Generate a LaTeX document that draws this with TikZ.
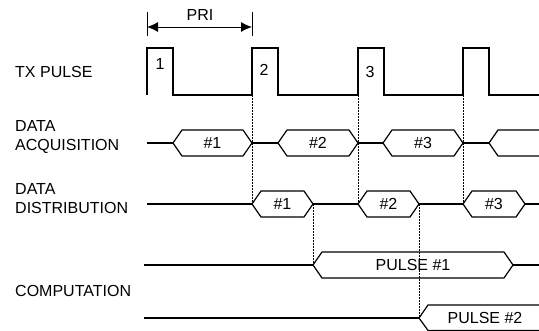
\documentclass[tikz,border=0pt]{standalone}
\usepackage{fontspec}
\setmainfont{Liberation Sans}
\usetikzlibrary{arrows.meta}

% bus segment drawn as a hexagon: name, left x, right x, y, text
\newcommand{\hexbox}[5]{%
    \draw[signal] (#2,#4) -- (#2+9,#4-13) -- (#3-9,#4-13) -- (#3,#4)
        -- (#3-9,#4+13) -- (#2+9,#4+13) -- cycle;
    \coordinate (#1w) at (#2,#4);
    \coordinate (#1e) at (#3,#4);
    \node[tag] (#1) at ({(#2+#3)/2},#4) {#5};
}

\begin{document}
\begin{tikzpicture}[
    x=1pt,
    y=-1pt,
    signal/.style={
        line width=1.2pt,
        line join=miter
    },
    guide/.style={
        densely dotted,
        line width=0.5pt
    },
    tag/.style={
        font=\fontsize{16}{19}\selectfont,
        inner sep=0pt
    },
    rowlabel/.style={
        tag,
        anchor=west,
        align=left
    }
]

\useasboundingbox (0,0) rectangle (539,331);


\node[rowlabel] (lbltx) at (15,72) {TX PULSE};
\node[rowlabel] (lblacq) at (15,137) {DATA\\ACQUISITION};
\node[rowlabel] (lbldist) at (15,199) {DATA\\DISTRIBUTION};
\node[rowlabel] (lblcomp) at (15,291) {COMPUTATION};


% PRI marker
\draw[line width=0.9pt] (147,12) -- (147,36);
\draw[line width=0.9pt] (252,12) -- (252,36);
\draw[line width=0.9pt, {Latex[length=11pt,width=10pt]}-{Latex[length=11pt,width=10pt]}]
    (147,27) -- (252,27);
\node[tag] (pri) at (200,15) {PRI};


% transmit pulses
\foreach \p/\q [count=\i] in {147/252,252/358,358/463,463/539}{
    \draw[signal] (\p,95) -- (\p,48) -- (\p+26,48) -- (\p+26,95) -- (\q,95);
    \coordinate (tx\i) at (\p,95);
}
\node[tag] (txa) at (160,64) {1};
\node[tag] (txb) at (264,70) {2};
\node[tag] (txc) at (370,72) {3};


% data acquisition
\coordinate (acq0) at (147,143);
\hexbox{da1}{173}{252}{143}{\#1}
\hexbox{da2}{278}{358}{143}{\#2}
\hexbox{da3}{383}{463}{143}{\#3}
\coordinate (da4w) at (489,143);
\draw[signal] (acq0) -- (da1w);
\draw[signal] (da1e) -- (da2w);
\draw[signal] (da2e) -- (da3w);
\draw[signal] (da3e) -- (da4w);
\draw[signal] (539,130) -- (498,130) -- (da4w) -- (498,156) -- (539,156);


% data distribution
\coordinate (dist0) at (147,204);
\coordinate (dist4) at (539,204);
\hexbox{dd1}{252}{313}{204}{\#1}
\hexbox{dd2}{358}{419}{204}{\#2}
\hexbox{dd3}{463}{525}{204}{\#3}
\draw[signal] (dist0) -- (dd1w);
\draw[signal] (dd1e) -- (dd2w);
\draw[signal] (dd2e) -- (dd3w);
\draw[signal] (dd3e) -- (dist4);


% computation
\coordinate (comp0) at (144,265);
\coordinate (comp1) at (539,265);
\hexbox{cp1}{313}{513}{265}{PULSE \#1}
\draw[signal] (comp0) -- (cp1w);
\draw[signal] (cp1e) -- (comp1);

\coordinate (comp2) at (144,318);
\coordinate (cp2w) at (419,318);
\draw[signal] (comp2) -- (cp2w);
\draw[signal] (539,305) -- (428,305) -- (cp2w) -- (428,330.4) -- (539,330.4);
\node[tag] (cp2) at (485,318) {PULSE \#2};


% timing guides
\draw[guide] (tx2) -- (dd1w);
\draw[guide] (tx3) -- (dd2w);
\draw[guide] (tx4) -- (dd3w);
\draw[guide] (dd1e) -- (cp1w);
\draw[guide] (dd2e) -- (cp2w);

\end{tikzpicture}
\end{document}
